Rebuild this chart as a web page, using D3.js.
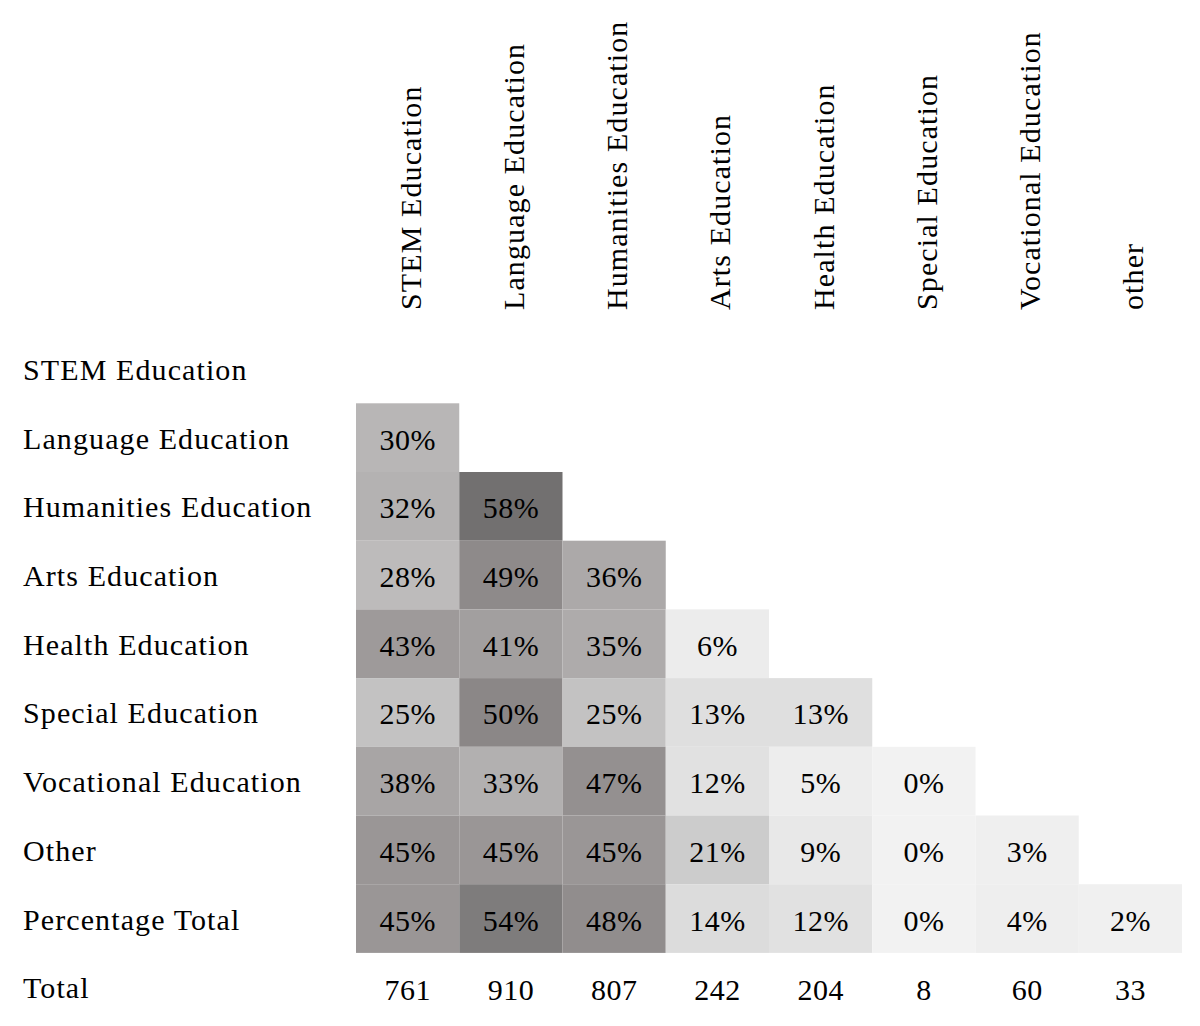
<!DOCTYPE html>
<html>
<head>
<meta charset="utf-8">
<script src="https://cdn.jsdelivr.net/npm/d3@7"></script>
<style>
  html, body { margin: 0; padding: 0; background: #fff; }
  svg text { font-family: "Liberation Serif", "Times New Roman", serif; fill: #000; }
</style>
</head>
<body>
<div id="chart"></div>
<script>
// categories
const columns = ["STEM Education", "Language Education", "Humanities Education", "Arts Education",
  "Health Education", "Special Education", "Vocational Education", "other"];
const rows = ["STEM Education", "Language Education", "Humanities Education", "Arts Education",
  "Health Education", "Special Education", "Vocational Education", "Other", "Percentage Total"];

// overlap values (%), one array per row, lower triangle only
const stemRow = [];
const languageRow = [30];
const humanitiesRow = [32, 58];
const artsRow = [28, 49, 36];
const healthRow = [43, 41, 35, 6];
const specialRow = [25, 50, 25, 13, 13];
const vocationalRow = [38, 33, 47, 12, 5, 0];
const otherRow = [45, 45, 45, 21, 9, 0, 3];
const percentageTotalRow = [45, 54, 48, 14, 12, 0, 4, 2];

// counts per column
const totals = [761, 910, 807, 242, 204, 8, 60, 33];

const rowValues = [stemRow, languageRow, humanitiesRow, artsRow, healthRow,
  specialRow, vocationalRow, otherRow, percentageTotalRow];

const width = 1200, height = 1026;

const svg = d3.select("#chart")
  .append("svg")
  .attr("width", width)
  .attr("height", height);

const x = d3.scaleBand()
  .domain(columns)
  .range([356, 1182]);

const y = d3.scaleBand()
  .domain(rows.concat(["Total"]))
  .range([334.6, 1021.6]);

// grey ramp, darker = bigger share
const color = d3.scaleLinear()
  .domain([0, 8, 15, 30, 45, 58])
  .range(["#f2f2f2", "#eaeaea", "#dadada", "#b8b6b6", "#9a9696", "#727070"])
  .clamp(true);

// flatten into cells
let cells = [];
rowValues.forEach(function(vals, i) {
  vals.forEach(function(v, j) {
    cells.push({ row: rows[i], col: columns[j], value: v });
  });
});

svg.append("g")
  .selectAll("rect")
  .data(cells)
  .enter()
  .append("rect")
  .attr("x", d => x(d.col))
  .attr("y", d => y(d.row))
  .attr("width", x.bandwidth())
  .attr("height", y.bandwidth())
  .style("fill", d => color(d.value));

svg.append("g")
  .selectAll("text")
  .data(cells)
  .enter()
  .append("text")
  .attr("x", d => x(d.col) + x.bandwidth() / 2)
  .attr("y", d => y(d.row) + y.bandwidth() / 2 + 12)
  .attr("text-anchor", "middle")
  .style("font-size", "30px")
  .style("letter-spacing", "0.5px")
  .text(d => d.value + "%");

// row labels
svg.append("g")
  .selectAll("text")
  .data(rows.concat(["Total"]))
  .enter()
  .append("text")
  .attr("x", 23)
  .attr("y", d => y(d) + y.bandwidth() / 2 + 11)
  .style("font-size", "30px")
  .style("letter-spacing", "1.1px")
  .text(d => d);

// column labels, rotated
svg.append("g")
  .selectAll("text")
  .data(columns)
  .enter()
  .append("text")
  .attr("transform", d => "translate(" + (x(d) + x.bandwidth() / 2 + 13) + ",310) rotate(-90)")
  .attr("text-anchor", "start")
  .style("font-size", "30px")
  .style("letter-spacing", "1.1px")
  .text(d => d);

// totals row
svg.append("g")
  .selectAll("text")
  .data(totals)
  .enter()
  .append("text")
  .attr("x", (d, i) => x(columns[i]) + x.bandwidth() / 2)
  .attr("y", y("Total") + y.bandwidth() / 2 + 13)
  .attr("text-anchor", "middle")
  .style("font-size", "30px")
  .style("letter-spacing", "0.5px")
  .text(d => d);
</script>
</body>
</html>
